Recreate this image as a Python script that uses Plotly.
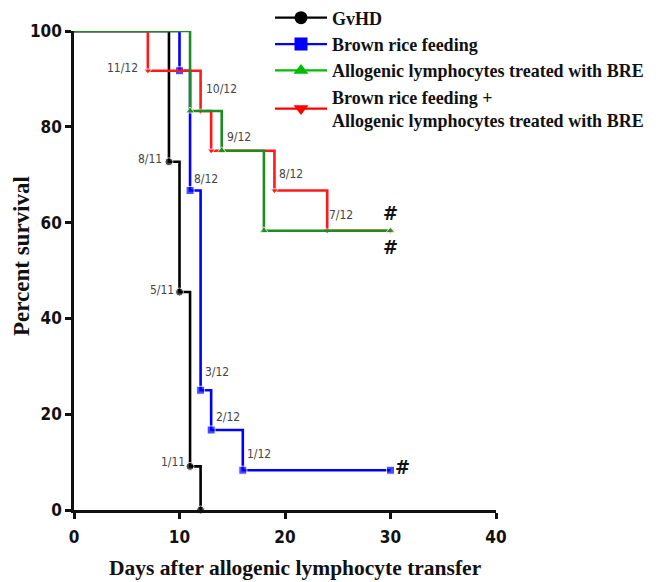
import plotly.graph_objects as go

# ---- data ----
gvhd_days = [0, 9, 10, 11, 12]
gvhd_surv = [100, 72.7, 45.5, 9.1, 0]

brown_days = [0, 10, 11, 12, 13, 16, 30]
brown_surv = [100, 91.7, 66.7, 25.0, 16.7, 8.3, 8.3]

bre_days = [0, 11, 14, 18, 30]
bre_surv = [100, 83.3, 75.0, 58.3, 58.3]

combo_days = [0, 7, 12, 13, 19, 24, 30]
combo_surv = [100, 91.7, 83.3, 75.0, 66.7, 58.3, 58.3]

series_names = ["GvHD", "Brown rice feeding",
                "Allogenic lymphocytes treated with BRE",
                "Brown rice feeding +<br>Allogenic lymphocytes treated with BRE"]

x_ticks = [0, 10, 20, 30, 40]
y_ticks = [0, 20, 40, 60, 80, 100]

x_title = "Days after allogenic lymphocyte transfer"
y_title = "Percent survival"

# annotation labels: (text, x, y, anchor)
labels = [
    ("11/12", 6.3, 92.3, "right"),
    ("10/12", 12.3, 87.8, "left"),
    ("9/12", 14.3, 77.8, "left"),
    ("8/12", 19.2, 70.2, "left"),
    ("7/12", 24.0, 61.6, "left"),
    ("8/11", 8.5, 73.2, "right"),
    ("5/11", 9.7, 45.9, "right"),
    ("1/11", 10.7, 10.0, "right"),
    ("8/12", 11.2, 69.0, "left"),
    ("3/12", 12.2, 28.8, "left"),
    ("2/12", 13.3, 19.5, "left"),
    ("1/12", 16.2, 11.6, "left"),
]
hash_marks = [(30.0, 62.0), (30.0, 55.0), (31.1, 9.0)]

fig = go.Figure()

def add_series(days, surv, color, symbol, size):
    sizes = [0] + [size] * (len(days) - 1)
    fig.add_trace(go.Scatter(
        x=days, y=surv, mode="lines+markers", line_shape="hv",
        line=dict(color=color, width=2.6),
        marker=dict(symbol=symbol, size=sizes, color=color),
        showlegend=False, cliponaxis=False, hoverinfo="skip"))

add_series(gvhd_days, gvhd_surv, "#000000", "circle", 8)
add_series(brown_days, brown_surv, "#0000ff", "square", 8)
add_series(combo_days, combo_surv, "#ff1a1a", "triangle-down", 7)
add_series(bre_days, bre_surv, "#1e8c1e", "triangle-up", 8)

legend_colors = ["#000000", "#0000ff", "#00bb00", "#ff0000"]
legend_symbols = ["circle", "square", "triangle-up", "triangle-down"]
for name, col, sym in zip(series_names, legend_colors, legend_symbols):
    fig.add_trace(go.Scatter(
        x=[None], y=[None], mode="lines+markers", name=name,
        line=dict(color=col, width=2.2),
        marker=dict(symbol=sym, size=13, color=col)))

NARROW = "DejaVu Sans Condensed, Liberation Sans"
labfont = dict(family=NARROW, size=12, color="#444444")
for text, x, y, anchor in labels:
    fig.add_annotation(x=x, y=y, text=text, showarrow=False, xanchor=anchor,
                       yanchor="middle", font=labfont)
for x, y in hash_marks:
    fig.add_annotation(x=x, y=y, text="#", showarrow=False, xanchor="center",
                       yanchor="middle",
                       font=dict(family=NARROW, size=20, color="#111111", weight="bold"))

tickfont = dict(family=NARROW, size=17, color="#111111", weight="bold")
serif = "Liberation Serif, Times New Roman, serif"

# page has an 8px body margin, so the figure is 8px smaller and shifted
OFF = 8
PW, PH = 665 - OFF, 582 - OFF
ML = 74 - OFF
MB = 72
AX_RIGHT, AX_TOP = 496 - OFF, 31 - OFF
plot_w = PW - ML - 2
plot_h = PH - MB
ax_w = AX_RIGHT - ML
ax_h = PH - MB - AX_TOP

def px_x(sx):   # screen px -> paper x
    return (sx - OFF - ML) / plot_w

def px_y(sy):   # screen px -> paper y
    return (PH - MB - (sy - OFF)) / plot_h

fig.add_annotation(x=px_x(295), y=px_y(568), xref="paper", yref="paper",
                   text=x_title, showarrow=False, xanchor="center", yanchor="middle",
                   font=dict(family=serif, size=21.5, color="#111111", weight="bold"))
fig.add_annotation(x=px_x(21), y=px_y(256), xref="paper", yref="paper",
                   text=y_title, showarrow=False, xanchor="center", yanchor="middle",
                   textangle=-90,
                   font=dict(family=serif, size=23, color="#111111", weight="bold"))

fig.update_layout(
    width=PW, height=PH,
    margin=dict(l=ML, r=2, t=0, b=MB, autoexpand=False),
    paper_bgcolor="white", plot_bgcolor="white",
    legend=dict(x=(262 - ML) / plot_w, y=1.017, xanchor="left", yanchor="top",
                bgcolor="rgba(0,0,0,0)", tracegroupgap=0, itemwidth=52,
                font=dict(family=serif, size=18, color="#111111", weight="bold")),
    xaxis=dict(domain=[0, ax_w / plot_w], automargin=False,
               range=[0, 40], tickvals=x_ticks, showgrid=False,
               zeroline=False, showline=True, linecolor="#111111", linewidth=2.5,
               ticks="outside", ticklen=6, tickwidth=2.5, tickcolor="#111111",
               tickfont=tickfont, ticklabelstandoff=4),
    yaxis=dict(domain=[0, ax_h / plot_h], automargin=False,
               range=[0, 100], tickvals=y_ticks, showgrid=False,
               zeroline=False, showline=True, linecolor="#111111", linewidth=2.5,
               ticks="outside", ticklen=6, tickwidth=2.5, tickcolor="#111111",
               tickfont=tickfont),
)

fig.write_html("out.html")
